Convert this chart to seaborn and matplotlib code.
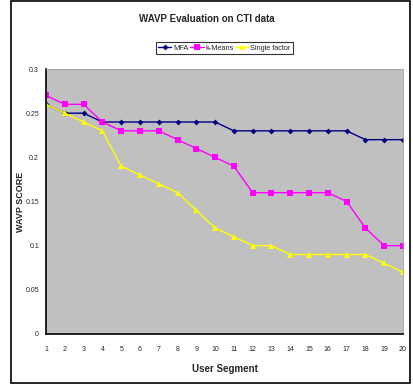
import numpy as np
import pandas as pd
import seaborn as sns
import matplotlib
matplotlib.use("Agg")
import matplotlib.pyplot as plt
from matplotlib.patches import Rectangle

segments = list(range(1, 21))
mfa = [0.26, 0.25, 0.25, 0.24, 0.24, 0.24, 0.24, 0.24, 0.24, 0.24,
       0.23, 0.23, 0.23, 0.23, 0.23, 0.23, 0.23, 0.22, 0.22, 0.22]
kmeans = [0.27, 0.26, 0.26, 0.24, 0.23, 0.23, 0.23, 0.22, 0.21, 0.20,
          0.19, 0.16, 0.16, 0.16, 0.16, 0.16, 0.15, 0.12, 0.10, 0.10]
single = [0.26, 0.25, 0.24, 0.23, 0.19, 0.18, 0.17, 0.16, 0.14, 0.12,
          0.11, 0.10, 0.10, 0.09, 0.09, 0.09, 0.09, 0.09, 0.08, 0.07]
series_names = ["MFA", "k-Means", "Single factor"]
yticks = [0, 0.05, 0.1, 0.15, 0.2, 0.25, 0.3]
ytick_labels = ["0", "0.05", "0.1", "0.15", "0.2", "0.25", "0.3"]

df = pd.DataFrame({
    "segment": segments * 3,
    "score": mfa + kmeans + single,
    "series": [series_names[0]] * 20 + [series_names[1]] * 20 + [series_names[2]] * 20,
})

sns.set_style("white")
plt.rcParams["font.family"] = ["Liberation Sans", "DejaVu Sans"]

fig = plt.figure(figsize=(4.13, 3.86), dpi=100)
ax = fig.add_axes([46/413, 52/386, 357/413, 265/386])
ax.set_facecolor("#C0C0C0")

palette = {"MFA": "#000080", "k-Means": "#FF00FF", "Single factor": "#FFFF00"}
markers = {"MFA": "D", "k-Means": "s", "Single factor": "^"}
sns.lineplot(data=df, x="segment", y="score", hue="series", style="series",
             palette=palette, markers=markers, dashes=False, linewidth=1.0,
             markersize=4, markeredgewidth=0, ax=ax, legend=True)

ax.set_xlim(1, 20)
ax.set_ylim(0, 0.3)
ax.set_xticks(segments)
ax.set_xticklabels([str(s) for s in segments], fontsize=5)
ax.set_yticks(yticks)
ax.set_yticklabels(ytick_labels, fontsize=5)
ax.tick_params(axis="both", direction="out", length=3, width=0.8, color="black", pad=2)
ax.tick_params(axis="x", pad=5.5)
for side in ["left", "bottom"]:
    ax.spines[side].set_color("black")
    ax.spines[side].set_linewidth(1.2)
for side in ["top", "right"]:
    ax.spines[side].set_color("#A0A0A0")
    ax.spines[side].set_linewidth(0.6)

for line in ax.lines:
    if line.get_marker() == "D":
        line.set_markersize(3)

ax.set_xlabel("User Segment", fontsize=7, fontweight="bold", labelpad=8)
ax.set_ylabel("WAVP SCORE", fontsize=6.5, fontweight="bold", va="center")
ax.yaxis.set_label_coords(-(46 - 20.5) / 357, 0.5)

leg = ax.legend(loc="center", bbox_to_anchor=(0.5, 1 + 21/265), ncol=3, fontsize=5.3,
                frameon=True, fancybox=False, edgecolor="black", handlelength=1.8,
                handletextpad=0.2, columnspacing=0.3, borderpad=0.3, title=None)
leg.get_frame().set_linewidth(0.8)
for h in leg.legend_handles:
    if h.get_marker() == "D":
        h.set_markersize(3)

fig.text(0.5, 1 - 19/386, "WAVP Evaluation on CTI data", ha="center", va="center",
         fontsize=7, fontweight="bold")

fig.patches.append(Rectangle((11/413, 3/386), 399/413, 382/386, transform=fig.transFigure,
                             fill=False, edgecolor="black", linewidth=1.2))

fig.savefig("out.png", dpi=100)
